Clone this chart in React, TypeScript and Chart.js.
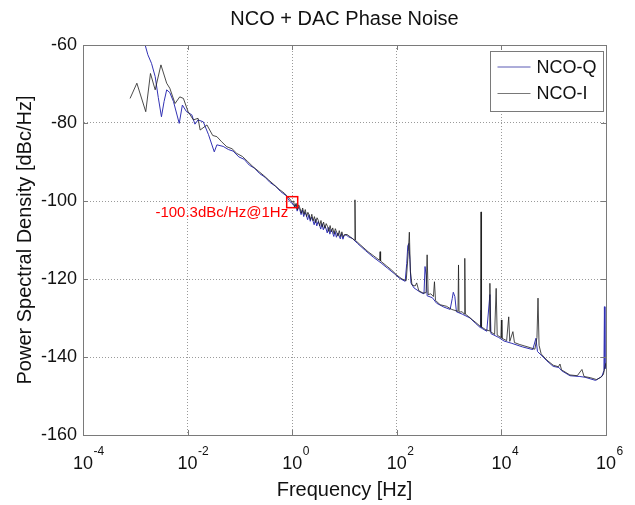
import React, { useEffect, useRef } from 'react';
import { Chart, registerables } from 'chart.js';

Chart.register(...registerables);

// ---------- data ----------
const chartTitle = 'NCO + DAC Phase Noise';
const xAxisTitle = 'Frequency [Hz]';
const yAxisTitle = 'Power Spectral Density [dBc/Hz]';
const xTickExponents = [-4, -2, 0, 2, 4, 6];
const yTickValues = [-160, -140, -120, -100, -80, -60];
const seriesNames = ['NCO-Q', 'NCO-I'];
const seriesColors = ['rgb(50,50,180)', 'rgb(30,30,30)'];
const markerFreq = 1;
const markerValue = -100.3;
const markerLabel = '-100.3dBc/Hz@1Hz';

// [log10(frequency / Hz), dBc/Hz]
const ncoQ: [number, number][] = [
  [-2.88, -56], [-2.82, -59.6], [-2.76, -62.5], [-2.69, -64.7], [-2.62, -68.1], [-2.56, -73.5],
  [-2.5, -78.4], [-2.45, -74.5], [-2.4, -71.5], [-2.34, -72.2], [-2.27, -74.5], [-2.16, -80.1],
  [-2.1, -75.4], [-2.02, -77.1], [-1.92, -77.9], [-1.86, -80.3], [-1.8, -79.2], [-1.7, -79.7],
  [-1.6, -83], [-1.49, -87.4], [-1.44, -85.6], [-1.32, -86], [-1.22, -86.8], [-1.13, -87.2],
  [-1.02, -88.7], [-0.92, -89.3], [-0.82, -90.8], [-0.72, -91.6], [-0.62, -93.0], [-0.52, -93.9],
  [-0.42, -95.3], [-0.32, -96.2], [-0.22, -97.6], [-0.12, -98.6], [-0.04, -100.2],
  [0.02, -100.8], [0.045, -101.5], [0.07, -100.9], [0.095, -102.6], [0.12, -101.6], [0.145, -102.2],
  [0.17, -103.5], [0.195, -102.3], [0.22, -104.0], [0.245, -102.9], [0.27, -103.6], [0.295, -104.8],
  [0.32, -103.5], [0.345, -105.2], [0.37, -104.1], [0.395, -105.0], [0.42, -106.1], [0.445, -104.7],
  [0.47, -106.4], [0.495, -105.3], [0.52, -106.0], [0.545, -107.2], [0.57, -105.8], [0.595, -107.4],
  [0.62, -106.3], [0.645, -107.0], [0.67, -108.2], [0.695, -106.8], [0.72, -108.5], [0.745, -107.3],
  [0.77, -108.0], [0.795, -109.1], [0.82, -107.8], [0.845, -109.3], [0.87, -108.2], [0.895, -108.9],
  [0.92, -109.7], [0.945, -108.4], [0.97, -109.8], [0.995, -108.8],
  [1.03, -108.7], [1.08, -109.2], [1.15, -109.6], [1.25, -110.9], [1.4, -112.7],
  [1.55, -114.4], [1.7, -115.9], [1.82, -117.2], [1.95, -118.6], [2.05, -119.8], [2.16, -120.6],
  [2.19, -116], [2.21, -111.5], [2.23, -110.9], [2.25, -115], [2.27, -121], [2.33, -122.3],
  [2.45, -123.4], [2.52, -123.8], [2.54, -116.8], [2.56, -119], [2.58, -124.3], [2.68, -124.8],
  [2.76, -126.2], [2.9, -127.2], [3.02, -127.8], [3.06, -125], [3.08, -123.4], [3.11, -124.5],
  [3.14, -128.4], [3.25, -129], [3.4, -130], [3.5, -131.3], [3.6, -132.5], [3.61, -128],
  [3.62, -132.6], [3.72, -133.4], [3.78, -124], [3.8, -134], [3.95, -135], [4.05, -135.9],
  [4.2, -136.5], [4.4, -137.4], [4.6, -138.1], [4.66, -135.2], [4.69, -138.6], [4.76, -139.5],
  [4.87, -141], [4.99, -142.4], [5.1, -142.7], [5.15, -143.5], [5.31, -144.8], [5.5, -145],
  [5.6, -145.2], [5.8, -146], [5.92, -145], [5.96, -143.5], [5.97, -127.1], [5.98, -143], [6.0, -142],
];

const ncoI: [number, number][] = [
  [-3.1, -73.7], [-2.97, -69.8], [-2.8, -77.1], [-2.71, -67.3], [-2.62, -71.5], [-2.51, -65.1],
  [-2.4, -69.8], [-2.34, -71.1], [-2.24, -75], [-2.15, -73.3], [-2.08, -73.7], [-1.99, -77.1],
  [-1.89, -79.2], [-1.8, -78.8], [-1.76, -81.8], [-1.63, -80.5], [-1.52, -83.2], [-1.44, -83.5],
  [-1.35, -84.8], [-1.25, -86.1], [-1.15, -86.6], [-1.06, -87.8], [-0.95, -88.6], [-0.85, -89.9],
  [-0.75, -91.2], [-0.65, -92.3], [-0.55, -93.4], [-0.45, -94.6], [-0.35, -95.8], [-0.25, -97.0],
  [-0.15, -98.0], [-0.05, -99.4], [0, -100.3],
  [0.025, -100.0], [0.05, -101.6], [0.075, -100.6], [0.1, -102.3], [0.125, -101.0], [0.15, -101.9],
  [0.175, -103.1], [0.2, -101.8], [0.225, -103.4], [0.25, -102.2], [0.275, -104.0], [0.3, -102.9],
  [0.325, -103.6], [0.35, -104.8], [0.375, -103.4], [0.4, -105.1], [0.425, -104.0], [0.45, -105.6],
  [0.475, -104.3], [0.5, -105.0], [0.525, -106.4], [0.55, -105.0], [0.575, -106.6], [0.6, -105.4],
  [0.625, -107.0], [0.65, -105.8], [0.675, -106.5], [0.7, -107.8], [0.725, -106.3], [0.75, -107.9],
  [0.775, -106.9], [0.8, -108.4], [0.825, -107.1], [0.85, -108.0], [0.875, -109.0], [0.9, -107.6],
  [0.925, -109.1], [0.95, -107.9], [0.975, -109.2], [1.0, -108.6],
  [1.05, -108.6], [1.12, -109.3], [1.19, -110], [1.2, -99.7], [1.21, -110.1], [1.3, -111.2],
  [1.45, -113], [1.6, -114.5], [1.67, -115.2], [1.68, -113], [1.69, -115.4], [1.8, -116.6],
  [1.9, -117.7], [2.0, -119.0], [2.1, -120.0], [2.18, -120.4], [2.22, -113], [2.24, -108],
  [2.26, -118], [2.29, -121.5], [2.35, -121.8], [2.38, -121], [2.42, -123], [2.5, -123.6],
  [2.56, -123.5], [2.58, -113.8], [2.6, -124], [2.65, -123.8], [2.7, -124.5], [2.72, -120.7],
  [2.74, -125.5], [2.83, -126.6], [2.95, -127], [3.05, -127.8], [3.17, -128.3], [3.18, -116.4],
  [3.19, -128.5], [3.25, -128.4], [3.29, -129], [3.3, -114.7], [3.31, -129], [3.37, -129.6],
  [3.45, -130.5], [3.55, -131.6], [3.6, -132.2], [3.61, -102.8], [3.62, -132.3], [3.7, -133],
  [3.77, -133.3], [3.78, -121.1], [3.79, -133.5], [3.87, -134.2], [3.9, -122.4], [3.92, -134.4],
  [3.99, -135], [4.0, -130.5], [4.01, -135.2], [4.1, -135.8], [4.14, -129.7], [4.16, -136],
  [4.22, -133.5], [4.25, -136.3], [4.35, -136.8], [4.45, -137.2], [4.55, -137.6], [4.64, -138],
  [4.68, -135], [4.7, -124.9], [4.72, -137], [4.76, -139.2], [4.87, -140.8], [4.99, -142.1],
  [5.09, -142.5], [5.12, -141.8], [5.15, -143.3], [5.31, -144.6], [5.45, -144.8], [5.54, -143.2],
  [5.58, -145], [5.7, -145.3], [5.82, -145.8], [5.9, -145.2], [5.95, -144.5], [5.98, -142.5],
  [6.0, -141.5],
];

// ---------- styling ----------
const FONT = "'Liberation Sans', Arial, Helvetica, sans-serif";
const toPoints = (arr: [number, number][]) => arr.map(([e, v]) => ({ x: Math.pow(10, e), y: v }));

const decorPlugin = {
  id: 'decor',
  afterDraw(chart: any) {
    const { ctx, chartArea } = chart;
    const { left, right, top, bottom } = chartArea;
    const xs = chart.scales.x;
    const ys = chart.scales.y;
    ctx.save();

    // top & right border of axes box
    ctx.strokeStyle = '#7a7a7a';
    ctx.lineWidth = 1;
    ctx.beginPath();
    ctx.moveTo(Math.round(left) + 0.5, Math.round(top) + 0.5);
    ctx.lineTo(Math.round(right) + 0.5, Math.round(top) + 0.5);
    ctx.lineTo(Math.round(right) + 0.5, Math.round(bottom) + 0.5);
    ctx.stroke();

    // small inward tick marks
    ctx.beginPath();
    xTickExponents.forEach((e) => {
      const px = Math.round(xs.getPixelForValue(Math.pow(10, e))) + 0.5;
      ctx.moveTo(px, bottom); ctx.lineTo(px, bottom - 5);
      ctx.moveTo(px, top); ctx.lineTo(px, top + 5);
    });
    yTickValues.forEach((v) => {
      const py = Math.round(ys.getPixelForValue(v)) + 0.5;
      ctx.moveTo(left, py); ctx.lineTo(left + 5, py);
      ctx.moveTo(right, py); ctx.lineTo(right - 5, py);
    });
    ctx.stroke();

    // exponents of x tick labels
    ctx.fillStyle = '#111';
    ctx.font = `18px ${FONT}`;
    const baseW = ctx.measureText('10').width;
    ctx.font = `12px ${FONT}`;
    ctx.textAlign = 'left';
    ctx.textBaseline = 'middle';
    xTickExponents.forEach((e) => {
      const px = xs.getPixelForValue(Math.pow(10, e));
      ctx.fillText(e < 0 ? '-' + Math.abs(e) : String(e), px + baseW / 2 + 0.5, bottom + 17);
    });

    // marker annotation
    const mx = xs.getPixelForValue(markerFreq);
    const my = ys.getPixelForValue(markerValue);
    ctx.strokeStyle = '#ff0000';
    ctx.lineWidth = 1.5;
    ctx.strokeRect(mx - 5.5, my - 5.5, 11, 11);
    ctx.fillStyle = '#ff0000';
    ctx.font = `15px ${FONT}`;
    ctx.textAlign = 'right';
    ctx.textBaseline = 'middle';
    ctx.fillText(markerLabel, mx - 4, my + 11);

    // legend box
    const bw = 113, bh = 60;
    const bx = Math.round(right) - 3 - bw + 0.5;
    const by = Math.round(top) + 6 + 0.5;
    ctx.fillStyle = '#ffffff';
    ctx.fillRect(bx, by, bw, bh);
    ctx.strokeStyle = '#7a7a7a';
    ctx.lineWidth = 1;
    ctx.strokeRect(bx, by, bw, bh);
    ctx.font = `18px ${FONT}`;
    ctx.textAlign = 'left';
    ctx.textBaseline = 'middle';
    seriesNames.forEach((name, i) => {
      const ly = by + 15.5 + i * 26.5;
      ctx.strokeStyle = i === 0 ? 'rgb(90,90,180)' : 'rgb(120,120,120)';
      ctx.lineWidth = 1;
      ctx.beginPath();
      ctx.moveTo(bx + 7, ly);
      ctx.lineTo(bx + 40, ly);
      ctx.stroke();
      ctx.fillStyle = '#111';
      ctx.fillText(name, bx + 46, ly + 1);
    });

    ctx.restore();
  },
};

export default function App() {
  const canvasRef = useRef<HTMLCanvasElement | null>(null);

  useEffect(() => {
    document.body.style.margin = '0';
    const canvas = canvasRef.current;
    if (!canvas) return;
    const chart = new Chart(canvas, {
      type: 'line',
      data: {
        datasets: [
          {
            label: seriesNames[0],
            data: toPoints(ncoQ),
            borderColor: seriesColors[0],
            borderWidth: 1,
            pointRadius: 0,
            tension: 0,
            fill: false,
            order: 1,
          },
          {
            label: seriesNames[1],
            data: toPoints(ncoI),
            borderColor: seriesColors[1],
            borderWidth: 0.8,
            pointRadius: 0,
            tension: 0,
            fill: false,
            order: 0,
          },
        ],
      },
      plugins: [decorPlugin],
      options: {
        responsive: false,
        devicePixelRatio: 1,
        animation: false,
        events: [],
        layout: { padding: { left: 0, right: 29, top: 0, bottom: 0 } },
        plugins: {
          legend: { display: false },
          tooltip: { enabled: false },
          title: {
            display: true,
            text: chartTitle,
            fullSize: false,
            color: '#111',
            font: { family: FONT, size: 20, weight: 'normal' },
            padding: { top: 7, bottom: 14 },
          },
        },
        scales: {
          x: {
            type: 'logarithmic',
            min: 1e-4,
            max: 1e6,
            afterBuildTicks: (scale: any) => {
              scale.ticks = xTickExponents.map((e) => ({ value: Math.pow(10, e) }));
            },
            afterFit: (scale: any) => {
              scale.height = 70;
            },
            ticks: {
              autoSkip: false,
              maxRotation: 0,
              padding: 18,
              color: '#111',
              font: { family: FONT, size: 18 },
              callback: () => '10',
            },
            grid: {
              color: '#9a9a9a',
              lineWidth: 1,
              drawTicks: false,
            },
            border: { display: true, color: '#7a7a7a', width: 1, dash: [1, 2] },
            title: {
              display: true,
              text: xAxisTitle,
              color: '#111',
              font: { family: FONT, size: 20 },
              padding: { top: 0, bottom: 3 },
            },
          },
          y: {
            type: 'linear',
            min: -160,
            max: -60,
            afterBuildTicks: (scale: any) => {
              scale.ticks = yTickValues.map((v) => ({ value: v }));
            },
            afterFit: (scale: any) => {
              scale.width = 83;
            },
            ticks: {
              padding: 6,
              color: '#111',
              font: { family: FONT, size: 18 },
              callback: (v: any) => String(v),
            },
            grid: {
              color: '#9a9a9a',
              lineWidth: 1,
              drawTicks: false,
            },
            border: { display: true, color: '#7a7a7a', width: 1, dash: [1, 2] },
            title: {
              display: true,
              text: yAxisTitle,
              color: '#111',
              font: { family: FONT, size: 20 },
              padding: { top: 13, bottom: 0 },
            },
          },
        },
      },
    } as any);
    return () => chart.destroy();
  }, []);

  return (
    <div style={{ width: 635, height: 505 }}>
      <canvas ref={canvasRef} width={635} height={505} style={{ display: 'block' }} />
    </div>
  );
}
